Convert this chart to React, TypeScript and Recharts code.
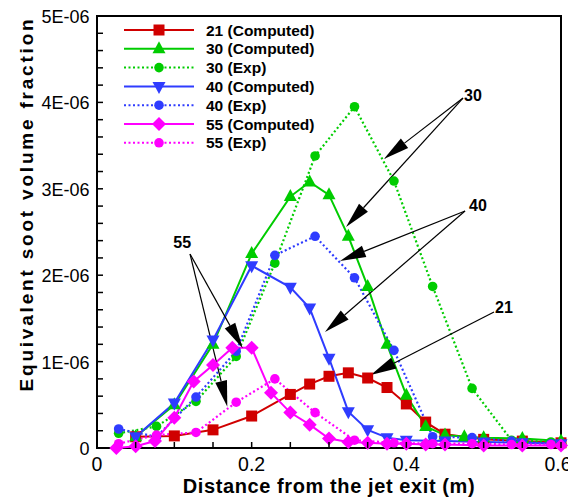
import React from "react";
import { LineChart, Line, XAxis, YAxis, ReferenceArea, ReferenceLine, ReferenceDot, Legend } from "recharts";

const FONT = "'Liberation Sans', Arial, Helvetica, sans-serif";

// distance from jet exit (m); soot volume fraction in units of 1E-06
const x21 = [0.05, 0.1, 0.15, 0.2, 0.25, 0.275, 0.3, 0.325, 0.35, 0.375, 0.4, 0.425, 0.45, 0.5, 0.55, 0.6];
const fv21 = [0.13, 0.14, 0.21, 0.37, 0.62, 0.74, 0.83, 0.87, 0.81, 0.7, 0.51, 0.3, 0.16, 0.1, 0.08, 0.06];

const x30 = [0.05, 0.1, 0.15, 0.2, 0.25, 0.275, 0.3, 0.325, 0.35, 0.375, 0.4, 0.425, 0.45, 0.475, 0.5, 0.55, 0.6];
const fv30 = [0.13, 0.5, 1.2, 2.25, 2.91, 3.08, 2.93, 2.45, 1.87, 1.2, 0.61, 0.25, 0.15, 0.13, 0.12, 0.11, 0.08];

const x40 = [0.05, 0.1, 0.15, 0.2, 0.25, 0.275, 0.3, 0.325, 0.35, 0.375, 0.4, 0.45, 0.5, 0.55, 0.6];
const fv40 = [0.13, 0.52, 1.25, 2.11, 1.86, 1.62, 1.04, 0.42, 0.21, 0.12, 0.09, 0.08, 0.07, 0.06, 0.05];

const x55 = [0.025, 0.05, 0.075, 0.1, 0.125, 0.15, 0.175, 0.2, 0.225, 0.25, 0.275, 0.3, 0.325, 0.35, 0.375, 0.4, 0.425, 0.45, 0.5, 0.55, 0.6];
const fv55 = [0.0, 0.02, 0.08, 0.35, 0.77, 0.96, 1.16, 1.16, 0.64, 0.41, 0.27, 0.11, 0.07, 0.06, 0.05, 0.05, 0.04, 0.04, 0.03, 0.03, 0.03];

// measurement stations
const xExp = [0.028, 0.077, 0.128, 0.18, 0.23, 0.282, 0.333, 0.384, 0.434, 0.485, 0.536, 0.587];
const fv30Exp = [0.17, 0.25, 0.54, 1.06, 2.14, 3.38, 3.95, 3.09, 1.87, 0.69, 0.09, 0.07];
const fv40Exp = [0.22, 0.13, 0.59, 1.12, 2.23, 2.45, 1.97, 1.13, 0.13, 0.12, 0.08, 0.05];
const fv55Exp = [0.05, 0.15, 0.18, 0.53, 0.8, 0.41, 0.09, 0.06, 0.05, 0.05, 0.04, 0.04];

const xTicks = [0, 0.05, 0.1, 0.15, 0.2, 0.25, 0.3, 0.35, 0.4, 0.45, 0.5, 0.55, 0.6];
const xTickLabels = ["0", "", "", "", "0.2", "", "", "", "0.4", "", "", "", "0.6"];
const yTicks = [0, 0.2, 0.4, 0.6, 0.8, 1, 1.2, 1.4, 1.6, 1.8, 2, 2.2, 2.4, 2.6, 2.8, 3, 3.2, 3.4, 3.6, 3.8, 4, 4.2, 4.4, 4.6, 4.8, 5];
const yTickLabels: Record<number, string> = { 0: "0", 1: "1E-06", 2: "2E-06", 3: "3E-06", 4: "4E-06", 5: "5E-06" };

const RED = "#d00000";
const GREEN = "#00cc00";
const BLUE = "#2f3cff";
const MAGENTA = "#ff00ff";

const pts = (xs: number[], ys: number[]) => xs.map((x, i) => ({ x, y: ys[i] }));

type MarkerKind = "square" | "up" | "down" | "circle" | "diamond";

const series: { name: string; data: { x: number; y: number }[]; color: string; marker: MarkerKind; dotted: boolean }[] = [
  { name: "21 (Computed)", data: pts(x21, fv21), color: RED, marker: "square", dotted: false },
  { name: "30 (Computed)", data: pts(x30, fv30), color: GREEN, marker: "up", dotted: false },
  { name: "30 (Exp)", data: pts(xExp, fv30Exp), color: GREEN, marker: "circle", dotted: true },
  { name: "40 (Computed)", data: pts(x40, fv40), color: BLUE, marker: "down", dotted: false },
  { name: "40 (Exp)", data: pts(xExp, fv40Exp), color: BLUE, marker: "circle", dotted: true },
  { name: "55 (Computed)", data: pts(x55, fv55), color: MAGENTA, marker: "diamond", dotted: false },
  { name: "55 (Exp)", data: pts(xExp, fv55Exp), color: MAGENTA, marker: "circle", dotted: true },
];

// callouts: label, origin of the leader lines and the arrow tips (data coords)
const callouts = [
  { text: "30", from: [0.4733, 4.05], tips: [[0.371, 3.345], [0.322, 2.558]], dx: 1, dy: 3, anchor: "start" },
  { text: "40", from: [0.4759, 2.743], tips: [[0.3142, 2.164], [0.2948, 1.343]], dx: 4, dy: 0, anchor: "start" },
  { text: "21", from: [0.5134, 1.574], tips: [[0.3539, 0.845]], dx: 1, dy: 1, anchor: "start" },
  { text: "55", from: [0.1203, 2.245], tips: [[0.1884, 1.154], [0.1685, 0.478]], dx: 1, dy: -6, anchor: "end" },
];

const DASH = "2 2.5";

function Marker({ kind, cx, cy, color }: { kind: MarkerKind; cx: number; cy: number; color: string }) {
  switch (kind) {
    case "square":
      return <rect x={cx - 5.5} y={cy - 5.5} width={11} height={11} fill={color} />;
    case "up":
      return <polygon points={`${cx},${cy - 7.5} ${cx - 6.5},${cy + 4.5} ${cx + 6.5},${cy + 4.5}`} fill={color} />;
    case "down":
      return <polygon points={`${cx},${cy + 7.5} ${cx - 6.5},${cy - 4.5} ${cx + 6.5},${cy - 4.5}`} fill={color} />;
    case "diamond":
      return <polygon points={`${cx},${cy - 7} ${cx + 7},${cy} ${cx},${cy + 7} ${cx - 7},${cy}`} fill={color} />;
    default:
      return <circle cx={cx} cy={cy} r={4.8} fill={color} />;
  }
}

const dotRenderer = (kind: MarkerKind, color: string) => (p: any) => (
  <g key={`${kind}-${color}-${p.index}`}>
    <Marker kind={kind} cx={p.cx} cy={p.cy} color={color} />
  </g>
);

const renderXTick = (p: any) => {
  const i = xTicks.indexOf(p.payload.value);
  // keep the last label inside the page edge
  const shift = i === xTicks.length - 1 ? -3 : 0;
  return (
    <g>
      <line x1={p.x} x2={p.x} y1={p.y} y2={p.y - 6} stroke="#000" strokeWidth={1.5} />
      {xTickLabels[i] ? (
        <text x={p.x + shift} y={p.y + 23} textAnchor="middle" fontSize={19.5} fontFamily={FONT} fill="#000">
          {xTickLabels[i]}
        </text>
      ) : null}
    </g>
  );
};

const renderYTick = (p: any) => {
  const v = Math.round(p.payload.value * 10) / 10;
  const label = yTickLabels[v];
  return (
    <g>
      <line x1={p.x} x2={p.x + 6} y1={p.y} y2={p.y} stroke="#000" strokeWidth={1.5} />
      {label ? (
        <text x={p.x - 7.5} y={p.y + 7} textAnchor="end" fontSize={18} fontFamily={FONT} fill="#000">
          {label}
        </text>
      ) : null}
    </g>
  );
};

const renderXTitle = () => (
  <text x={321} y={485} textAnchor="middle" fontSize={20} fontWeight="bold" fontFamily={FONT} letterSpacing={0.6} fill="#000">
    Distance from the jet exit (m)
  </text>
);

const renderYTitle = () => (
  <text
    x={25}
    y={196}
    transform="rotate(-90 25 196)"
    textAnchor="middle"
    fontSize={19}
    fontWeight="bold"
    fontFamily={FONT}
    letterSpacing={2.8}
    fill="#000"
  >
    Equivalent soot volume fraction
  </text>
);

const ArrowShape = (p: any) => {
  const { x1, y1, x2, y2 } = p;
  const len = Math.hypot(x2 - x1, y2 - y1) || 1;
  const ux = (x2 - x1) / len;
  const uy = (y2 - y1) / len;
  const L = 26;
  const W = 6;
  const bx = x2 - ux * L;
  const by = y2 - uy * L;
  return (
    <g>
      <line x1={x1} y1={y1} x2={bx} y2={by} stroke="#000" strokeWidth={1.2} />
      <polygon points={`${x2},${y2} ${bx - uy * W},${by + ux * W} ${bx + uy * W},${by - ux * W}`} fill="#000" />
    </g>
  );
};

const LegendBox = () => (
  <svg width={240} height={140} style={{ display: "block" }}>
    {series.map((s, i) => {
      const y = 10 + i * 18.8;
      return (
        <g key={s.name}>
          <line x1={6} x2={76} y1={y} y2={y} stroke={s.color} strokeWidth={2} strokeDasharray={s.dotted ? DASH : undefined} />
          <Marker kind={s.marker} cx={41} cy={y} color={s.color} />
          <text x={88} y={y + 5.5} fontSize={15.5} fontWeight="bold" fontFamily={FONT} fill="#000">
            {s.name}
          </text>
        </g>
      );
    })}
  </svg>
);

export default function App() {
  return (
    <LineChart width={568} height={490} margin={{ top: 8, right: 15, bottom: 0, left: 0 }} style={{ fontFamily: FONT }}>
      <XAxis
        type="number"
        dataKey="x"
        domain={[0, 0.6]}
        ticks={xTicks}
        interval={0}
        height={50}
        tickSize={0}
        tickMargin={0}
        tickLine={false}
        axisLine={false}
        tick={renderXTick}
        label={renderXTitle}
      />
      <YAxis
        type="number"
        domain={[0, 5]}
        ticks={yTicks}
        interval={0}
        width={89}
        tickSize={0}
        tickMargin={0}
        tickLine={false}
        axisLine={false}
        tick={renderYTick}
        label={renderYTitle}
      />
      <ReferenceArea x1={0} x2={0.6} y1={0} y2={5} fill="none" stroke="#000" strokeWidth={2} ifOverflow="visible" />
      {series.map((s) => (
        <Line
          key={s.name}
          data={s.data}
          dataKey="y"
          type="linear"
          stroke={s.color}
          strokeWidth={s.dotted ? 2.2 : 2}
          strokeDasharray={s.dotted ? DASH : undefined}
          dot={dotRenderer(s.marker, s.color)}
          activeDot={false}
          isAnimationActive={false}
        />
      ))}
      {callouts.flatMap((c) =>
        c.tips.map((t, j) => (
          <ReferenceLine
            key={`${c.text}-${j}`}
            segment={[
              { x: c.from[0], y: c.from[1] },
              { x: t[0], y: t[1] },
            ]}
            ifOverflow="visible"
            shape={ArrowShape}
          />
        ))
      )}
      {callouts.map((c) => (
        <ReferenceDot
          key={`lbl-${c.text}`}
          x={c.from[0]}
          y={c.from[1]}
          r={1}
          ifOverflow="visible"
          shape={(p: any) => (
            <text x={p.cx + c.dx} y={p.cy + c.dy} textAnchor={c.anchor as any} fontSize={16} fontWeight="bold" fontFamily={FONT} fill="#000">
              {c.text}
            </text>
          )}
        />
      ))}
      <Legend
        layout="horizontal"
        align="center"
        verticalAlign="middle"
        content={LegendBox}
        wrapperStyle={{ left: 110, top: 12, width: 240, height: 140 }}
      />
    </LineChart>
  );
}
